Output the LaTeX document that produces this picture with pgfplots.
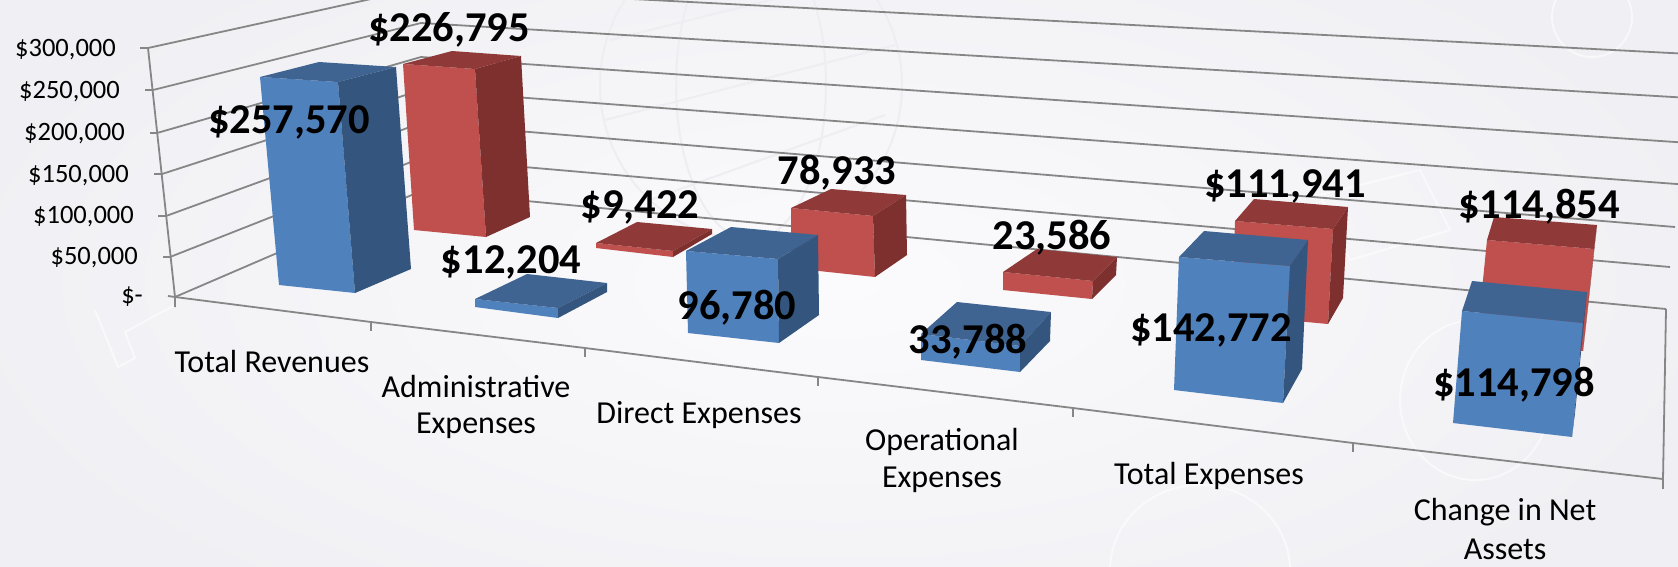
\documentclass[border=0pt]{standalone}
\usepackage{pgfplots}
\pgfplotsset{compat=1.18}
\usepackage{fontspec}
\setmainfont{Carlito}
\definecolor{bfront}{HTML}{4F81BD}
\definecolor{btop}{HTML}{3F6491}
\definecolor{bside}{HTML}{34557D}
\definecolor{rfront}{HTML}{C0504D}
\definecolor{rtop}{HTML}{8F3A39}
\definecolor{rside}{HTML}{7E302F}
\definecolor{gridc}{HTML}{868686}
\definecolor{wm}{HTML}{EDEDF2}
\definecolor{bgin}{HTML}{FBFBFD}
\definecolor{bgout}{HTML}{F0F0F4}
\newcommand{\face}[2]{\addplot[fill=#1,draw=none,forget plot] coordinates {#2} --cycle;}
\newcommand{\gline}[1]{\addplot[draw=gridc,line width=1.8pt,forget plot] coordinates {#1};}
\newcommand{\val}[3]{\node[font=\fontsize{42.5}{42.5}\selectfont\bfseries,text=black,inner sep=0pt,anchor=center] at (axis cs:#1,#2) {#3};}
\newcommand{\cat}[3]{\node[font=\fontsize{32}{32}\selectfont,text=black,inner sep=0pt,anchor=center] at (axis cs:#1,#2) {#3};}
\newcommand{\ytl}[3]{\node[font=\fontsize{26.5}{26.5}\selectfont,text=black,inner sep=0pt,anchor=east] at (axis cs:#1,#2) {#3};}
\begin{document}
\begin{tikzpicture}
\begin{axis}[
  scale only axis, width=1678pt, height=566pt,
  xmin=0, xmax=1678, ymin=0, ymax=566, y dir=reverse,
  hide axis, clip=true, clip mode=global,
  axis on top=false]
% background
\shade[inner color=bgin, outer color=bgout] (axis cs:-60,-120) rectangle (axis cs:1738,686);
% watermark globe and logo strokes
\begin{scope}[draw=wm,line width=2pt]
\draw (axis cs:751,85) ellipse [x radius=151pt,y radius=155pt];
\draw (axis cs:751,85) ellipse [x radius=75pt,y radius=155pt];
\draw (axis cs:610,40) -- (axis cs:890,-30);
\draw (axis cs:605,120) -- (axis cs:895,45);
\draw (axis cs:650,200) -- (axis cs:885,115);
\end{scope}
\begin{scope}[draw=white,line width=2pt,opacity=0.55]
\draw (axis cs:95,310) -- (axis cs:118,367) -- (axis cs:135,358) -- (axis cs:125,332) -- (axis cs:175,305);
\draw (axis cs:1475,400) ellipse [x radius=75pt,y radius=80pt];
\draw (axis cs:1200,570) ellipse [x radius=90pt,y radius=85pt];
\draw (axis cs:1592,17) ellipse [x radius=40pt,y radius=40pt];
\draw (axis cs:1320,195) -- (axis cs:1420,170) -- (axis cs:1450,230) -- (axis cs:1350,260) -- cycle;
\end{scope}
% value wall: left side and back wall gridlines
\gline{(148,48) (421,-12) (1690,54)}
\gline{(153,90) (421,23) (1690,98)}
\gline{(157,133) (421,57) (1690,143)}
\gline{(162,174) (421,90) (1690,185)}
\gline{(166,216) (421,123) (1675,227)}
\gline{(170,257) (421,158) (1670,267)}
\gline{(175,297) (421,191) (1666,309)}
% left axis with ticks
\gline{(148,48) (175,297) (175,307)}
\gline{(140,48) (148,48)}
\gline{(145,90) (153,90)}
\gline{(150,133) (157,133)}
\gline{(154,174) (162,174)}
\gline{(158,216) (166,216)}
\gline{(163,257) (170,257)}
\gline{(168,296) (175,297)}
% floor front edge with ticks, right edge
\gline{(175,297) (371,322) (585,348) (818,377) (1073,408) (1353,443) (1663,479)}
\gline{(371,322) (371,331)}
\gline{(585,348) (585,357)}
\gline{(818,377) (818,386)}
\gline{(1073,408) (1073,417)}
\gline{(1353,443) (1353,452)}
\gline{(1663,479) (1663,489)}
\gline{(1666,309) (1663,479)}
% Total Revenues: red 226,795
\face{rfront}{(403,64) (475,69) (486,237) (414,230)}
\face{rtop}{(403,64) (452,51) (521,56) (475,69)}
\face{rside}{(475,69) (521,56) (530,217) (486,237)}
% Total Revenues: blue 257,570
\face{bfront}{(260,77) (338,82) (355,293) (279,285)}
\face{btop}{(260,77) (319,62) (396,67) (338,82)}
\face{bside}{(338,82) (396,67) (411,269) (355,293)}
% Administrative: red 9,422
\face{rfront}{(596,243) (673,251) (673,257) (596,248)}
\face{rtop}{(596,243) (637,222) (712,229) (673,251)}
\face{rside}{(673,251) (712,229) (712,234) (673,257)}
% Administrative: blue 12,204
\face{bfront}{(475,299) (558,308) (558,318) (475,307)}
\face{btop}{(475,299) (527,274) (607,283) (558,308)}
\face{bside}{(558,308) (607,283) (607,292) (558,318)}
% Direct: red 78,933
\face{rfront}{(791,208) (873,216) (875,277) (791,268)}
\face{rtop}{(791,208) (831,189) (906,195) (873,216)}
\face{rside}{(873,216) (906,195) (907,255) (875,277)}
% Direct: blue 96,780
\face{bfront}{(686,251) (778,259) (779,343) (688,333)}
\face{btop}{(686,251) (731,227) (818,235) (778,259)}
\face{bside}{(778,259) (818,235) (819,315) (779,343)}
% Operational: red 23,586
\face{rfront}{(1003,272) (1093,281) (1092,299) (1003,290)}
\face{rtop}{(1003,272) (1037,249) (1117,257) (1093,281)}
\face{rside}{(1093,281) (1117,257) (1116,275) (1092,299)}
% Operational: blue 33,788
\face{bfront}{(921,334) (1020,346) (1020,372) (921,360)}
\face{btop}{(921,334) (957,302) (1051,312) (1020,346)}
\face{bside}{(1020,346) (1051,312) (1050,341) (1020,372)}
% Total Expenses: red 111,941
\face{rfront}{(1235,221) (1333,229) (1328,324) (1232,315)}
\face{rtop}{(1235,221) (1254,199) (1348,207) (1333,229)}
\face{rside}{(1333,229) (1348,207) (1343,298) (1328,324)}
% Total Expenses: blue 142,772
\face{bfront}{(1179,257) (1290,266) (1283,403) (1174,390)}
\face{btop}{(1179,257) (1204,231) (1308,240) (1290,266)}
\face{bside}{(1290,266) (1308,240) (1302,369) (1283,403)}
% Change in Net Assets: red 114,854
\face{rfront}{(1487,240) (1594,249) (1583,351) (1477,340)}
\face{rtop}{(1487,240) (1494,217) (1597,225) (1594,249)}
\face{rside}{(1594,249) (1597,225) (1586,325) (1583,351)}
% Change in Net Assets: blue 114,798
\face{bfront}{(1462,311) (1583,323) (1572,437) (1453,423)}
\face{btop}{(1462,311) (1472,281) (1587,292) (1583,323)}
\face{bside}{(1583,323) (1587,292) (1575,413) (1572,437)}
% tick labels
\ytl{116}{50}{\$300,000}
\ytl{120}{92}{\$250,000}
\ytl{125}{134}{\$200,000}
\ytl{129}{176}{\$150,000}
\ytl{134}{217}{\$100,000}
\ytl{138}{258}{\$50,000}
\ytl{143}{297}{\$-}
% category labels
\cat{272}{361}{Total Revenues}
\cat{476}{386}{Administrative}
\cat{476}{426}{Expenses}
\cat{699}{415}{Direct Expenses}
\cat{942}{442}{Operational}
\cat{942}{480}{Expenses}
\cat{1209}{476}{Total Expenses}
\cat{1505}{512}{Change in Net}
\cat{1505}{549}{Assets}
% value labels
\val{449}{30}{\$226,795}
\val{289}{122}{\$257,570}
\val{511}{262}{\$12,204}
\val{640}{207}{\$9,422}
\val{837}{173}{78,933}
\val{737}{308}{96,780}
\val{1052}{238}{23,586}
\val{968}{342}{33,788}
\val{1285}{186}{\$111,941}
\val{1211}{330}{\$142,772}
\val{1539}{207}{\$114,854}
\val{1514}{385}{\$114,798}
\end{axis}
\end{tikzpicture}
\end{document}
